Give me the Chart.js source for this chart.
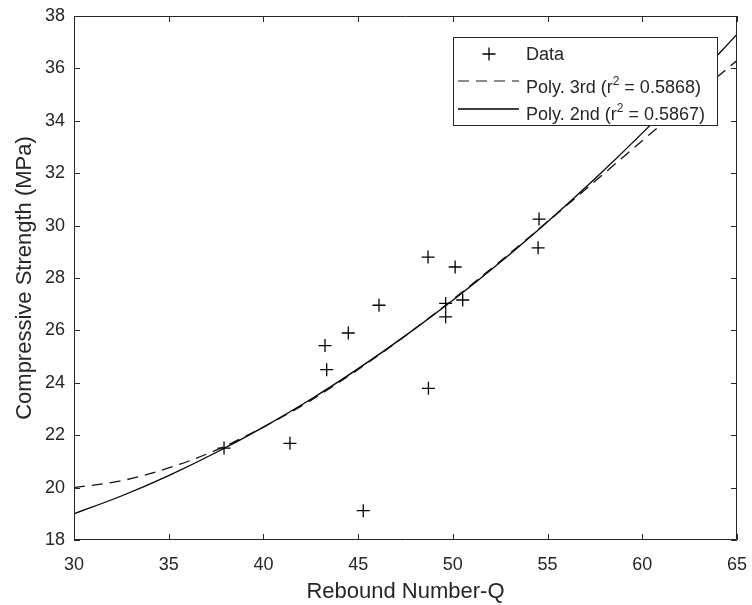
<!DOCTYPE html>
<html><head><meta charset="utf-8">
<script src="https://cdn.jsdelivr.net/npm/chart.js@4.4.0/dist/chart.umd.min.js"></script>
<style>html,body{margin:0;padding:0;background:#fff;}canvas{display:block;}</style>
</head><body>
<canvas id="c" width="752" height="605"></canvas>
<script>
// ---- data ----
const dataX = [37.92, 41.40, 43.25, 43.34, 44.48, 46.10, 45.27, 48.71, 48.69, 49.62, 49.62, 50.12, 50.52, 54.50, 54.55];
const dataY = [21.51, 21.69, 25.42, 24.50, 25.90, 26.96, 19.12, 23.79, 28.80, 27.03, 26.52, 28.42, 27.16, 29.15, 30.25];
const fitX   = [30, 32.5, 35, 37.5, 40, 42.5, 45, 47.5, 50, 52.5, 55, 57.5, 60, 62.5, 65];
const poly3Y = [20.00, 20.26, 20.75, 21.43, 22.31, 23.33, 24.51, 25.80, 27.18, 28.64, 30.15, 31.69, 33.24, 34.79, 36.30];
const poly2Y = [19.00, 19.68, 20.46, 21.34, 22.31, 23.37, 24.54, 25.80, 27.15, 28.60, 30.15, 31.79, 33.53, 35.37, 37.30];
const xTicks = [30, 35, 40, 45, 50, 55, 60, 65];
const yTicks = [18, 20, 22, 24, 26, 28, 30, 32, 34, 36, 38];
const xTitle = 'Rebound Number-Q';
const yTitle = 'Compressive Strength (MPa)';
const legendData = 'Data';
const legendPoly3 = ['Poly. 3rd (r', '2', ' = 0.5868)'];
const legendPoly2 = ['Poly. 2nd (r', '2', ' = 0.5867)'];

const FONT = "'Liberation Sans', Arial, Helvetica, sans-serif";
const INK = '#262626';

const pts = (xs, ys) => xs.map((x, i) => ({x: x, y: ys[i]}));

const framePlugin = {
  id: 'frame',
  afterDatasetsDraw(chart) {
    const ctx = chart.ctx, a = chart.chartArea;
    const xs = chart.scales.x, ys = chart.scales.y;
    ctx.save();
    ctx.strokeStyle = INK;
    ctx.lineWidth = 1;
    ctx.beginPath();
    ctx.moveTo(a.left + 0.5, a.top + 0.5);
    ctx.lineTo(a.right - 0.5, a.top + 0.5);
    ctx.lineTo(a.right - 0.5, a.bottom - 0.5);
    ctx.lineTo(a.left + 0.5, a.bottom - 0.5);
    ctx.closePath();
    ctx.stroke();
    const L = 6;
    ctx.beginPath();
    xTicks.forEach(v => {
      const p = Math.round(xs.getPixelForValue(v)) + 0.5;
      ctx.moveTo(p, a.bottom); ctx.lineTo(p, a.bottom - L);
      ctx.moveTo(p, a.top); ctx.lineTo(p, a.top + L);
    });
    yTicks.forEach(v => {
      const p = Math.round(ys.getPixelForValue(v)) + 0.5;
      ctx.moveTo(a.left, p); ctx.lineTo(a.left + L, p);
      ctx.moveTo(a.right, p); ctx.lineTo(a.right - L, p);
    });
    ctx.stroke();

    // legend
    const bx = 453, by = 37, bw = 264, bh = 88;
    ctx.fillStyle = '#fff';
    ctx.fillRect(bx, by, bw, bh);
    ctx.strokeStyle = INK;
    ctx.strokeRect(bx + 0.5, by + 0.5, bw, bh);
    ctx.strokeStyle = '#000';
    ctx.lineWidth = 1.3;
    ctx.beginPath();
    ctx.moveTo(482.5, 54); ctx.lineTo(495.5, 54);
    ctx.moveTo(489, 47.5); ctx.lineTo(489, 60.5);
    ctx.stroke();
    ctx.setLineDash([11, 7]);
    ctx.strokeStyle = '#666';
    ctx.beginPath(); ctx.moveTo(458, 81); ctx.lineTo(519, 81); ctx.stroke();
    ctx.setLineDash([]);
    ctx.strokeStyle = '#000';
    ctx.beginPath(); ctx.moveTo(458, 109); ctx.lineTo(519, 109); ctx.stroke();

    ctx.fillStyle = INK;
    ctx.textBaseline = 'alphabetic';
    ctx.textAlign = 'left';
    ctx.font = '18px ' + FONT;
    ctx.fillText(legendData, 526, 60);
    const drawSup = (parts, x, y) => {
      ctx.font = '18px ' + FONT;
      ctx.fillText(parts[0], x, y);
      x += ctx.measureText(parts[0]).width;
      ctx.font = '12px ' + FONT;
      ctx.fillText(parts[1], x, y - 8);
      x += ctx.measureText(parts[1]).width;
      ctx.font = '18px ' + FONT;
      ctx.fillText(parts[2], x, y);
    };
    drawSup(legendPoly3, 526, 93);
    drawSup(legendPoly2, 526, 120);
    ctx.restore();
  }
};

new Chart(document.getElementById('c'), {
  type: 'scatter',
  data: {
    datasets: [
      { label: 'Poly. 3rd', data: pts(fitX, poly3Y), showLine: true, pointRadius: 0,
        borderColor: '#111', borderWidth: 1.3, borderDash: [11, 7], cubicInterpolationMode: 'monotone', fill: false },
      { label: 'Poly. 2nd', data: pts(fitX, poly2Y), showLine: true, pointRadius: 0,
        borderColor: '#000', borderWidth: 1.3, cubicInterpolationMode: 'monotone', fill: false },
      { label: 'Data', data: pts(dataX, dataY), showLine: false, pointStyle: 'cross', pointRadius: 6.5,
        pointBorderWidth: 1.3, borderColor: '#000', backgroundColor: '#000' }
    ]
  },
  options: {
    responsive: false,
    animation: false,
    layout: { padding: { top: 16, right: 15, left: 0, bottom: 0 } },
    plugins: { legend: { display: false }, tooltip: { enabled: false } },
    scales: {
      x: {
        type: 'linear', min: 30, max: 65,
        afterBuildTicks: s => { s.ticks = xTicks.map(v => ({value: v})); },
        afterFit: s => { s.height = 65; s.paddingLeft = 0; s.paddingRight = 0; },
        grid: { display: false, drawTicks: false },
        border: { display: false },
        ticks: { color: INK, font: { family: FONT, size: 18 }, padding: 14, maxRotation: 0, autoSkip: false },
        title: { display: true, text: xTitle, color: INK, font: { family: FONT, size: 22 }, padding: { top: 0, bottom: 0 } }
      },
      y: {
        type: 'linear', min: 18, max: 38,
        afterBuildTicks: s => { s.ticks = yTicks.map(v => ({value: v})); },
        afterFit: s => { s.width = 74; s.paddingTop = 0; s.paddingBottom = 0; },
        grid: { display: false, drawTicks: false },
        border: { display: false },
        ticks: { color: INK, font: { family: FONT, size: 18 }, padding: 9, autoSkip: false },
        title: { display: true, text: yTitle, color: INK, font: { family: FONT, size: 22 }, padding: { top: 12, bottom: 0 } }
      }
    }
  },
  plugins: [framePlugin]
});
</script>
</body></html>
